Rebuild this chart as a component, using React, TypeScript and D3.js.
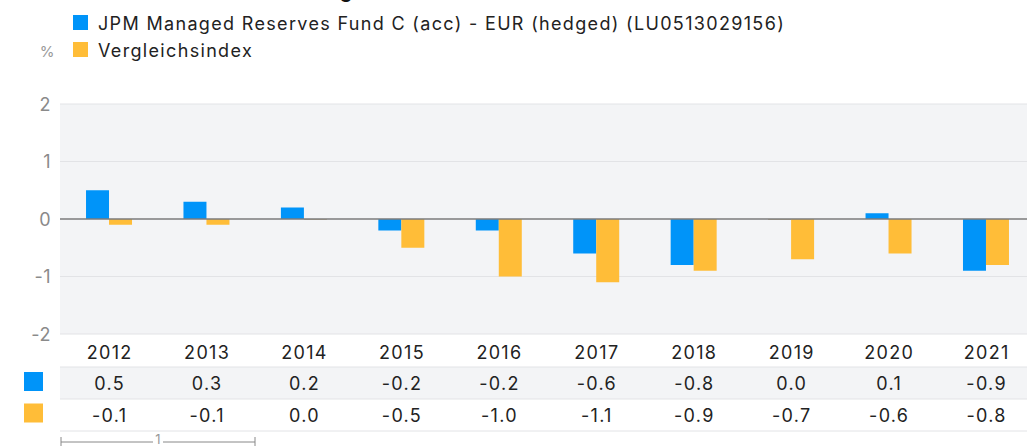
import React from "react";
import * as d3 from "d3";

const years = ["2012", "2013", "2014", "2015", "2016", "2017", "2018", "2019", "2020", "2021"];
const fundValues = [0.5, 0.3, 0.2, -0.2, -0.2, -0.6, -0.8, 0.0, 0.1, -0.9];
const indexValues = [-0.1, -0.1, 0.0, -0.5, -1.0, -1.1, -0.9, -0.7, -0.6, -0.8];
const yTicks = [2, 1, 0, -1, -2];
const seriesNames = ["JPM Managed Reserves Fund C (acc) - EUR (hedged) (LU0513029156)", "Vergleichsindex"];
const colors = ["#0094f9", "#ffbd38"];
const title = "Wertentwicklung";

const W = 1027;
const H = 446;
const FONT = "Inter, 'Noto Sans', sans-serif";

export default function App() {
  const x = d3.scaleBand<string>().domain(years).range([60.3, 1034.7]).paddingInner(0).paddingOuter(0);
  const y = d3.scaleLinear().domain([-2, 2]).range([334, 104]);
  const barW = x.bandwidth() * 0.236;
  const series = [fundValues, indexValues];
  const rowY = [367, 399, 431];
  const ls = 1.3;

  return (
    <svg width={W} height={H} style={{ position: "absolute", left: 0, top: 0, fontFamily: FONT }}>
      <rect x={0} y={0} width={W} height={H} fill="#fff" />
      <text x={352} y={-2} textAnchor="end" fontSize={19} fontWeight={700} fill="#111">{title}</text>
      {/* legend */}
      {seriesNames.map((n, i) => (
        <g key={n}>
          <rect x={73} y={15 + i * 27} width={15} height={15} fill={colors[i]} />
          <text x={98} y={29.5 + i * 27} fontSize={18} letterSpacing={1.33} fill="#222">{n}</text>
        </g>
      ))}
      <text x={47} y={57} textAnchor="middle" fontSize={15} fill="#999">%</text>
      {/* plot bg */}
      <rect x={60} y={y(2)} width={W - 60} height={y(-2) - y(2)} fill="#f3f4f6" />
      {yTicks.map((t) => (
        <g key={t}>
          {t !== 0 && <line x1={60} x2={W} y1={y(t)} y2={y(t)} stroke="#e2e3e6" strokeWidth={1} />}
          <text x={51} y={y(t) + 6.5} textAnchor="end" fontSize={18} letterSpacing={0.5} fill="#8a8a8a">{t}</text>
        </g>
      ))}
      {/* bars */}
      {series.map((vals, si) =>
        vals.map((v, i) => {
          const cx = (x(years[i]) as number) + x.bandwidth() / 2;
          const bx = si === 0 ? cx - barW : cx;
          const y0 = y(Math.max(0, v));
          const h = Math.abs(y(v) - y(0));
          return <rect key={`${si}-${i}`} x={bx} y={y0} width={barW} height={Math.max(h, v === 0 ? 0.6 : 0)} fill={v === 0 ? "#a88a50" : colors[si]} />;
        })
      )}
      <line x1={60} x2={W} y1={y(0)} y2={y(0)} stroke="#7b7b7b" strokeWidth={1.3} />
      {/* table */}
      <rect x={60} y={rowY[0]} width={W - 60} height={rowY[1] - rowY[0]} fill="#f3f4f6" />
      {rowY.map((ry) => (
        <line key={ry} x1={60} x2={W} y1={ry} y2={ry} stroke="#e2e3e6" strokeWidth={1} />
      ))}
      {years.map((yr, i) => {
        const cx = (x(yr) as number) + x.bandwidth() / 2 + ls / 2;
        return (
          <g key={yr}>
            <text x={cx} y={359} textAnchor="middle" fontSize={18} letterSpacing={ls} fill="#222">{yr}</text>
            {series.map((vals, si) => (
              <text key={si} x={cx} y={rowY[si] + 23} textAnchor="middle" fontSize={18} letterSpacing={ls} fill="#222">
                {vals[i].toFixed(1)}
              </text>
            ))}
          </g>
        );
      })}
      {colors.map((c, i) => (
        <rect key={c} x={24} y={372 + i * 31.5} width={19} height={19} fill={c} />
      ))}
      {/* scale bar */}
      <g stroke="#888" strokeWidth={1}>
        <line x1={61} x2={153} y1={442} y2={442} />
        <line x1={163} x2={255} y1={442} y2={442} />
        <line x1={61} x2={61} y1={437} y2={447} />
        <line x1={255} x2={255} y1={437} y2={447} />
      </g>
      <text x={158} y={444} textAnchor="middle" fontSize={13} fill="#999">1</text>
    </svg>
  );
}
